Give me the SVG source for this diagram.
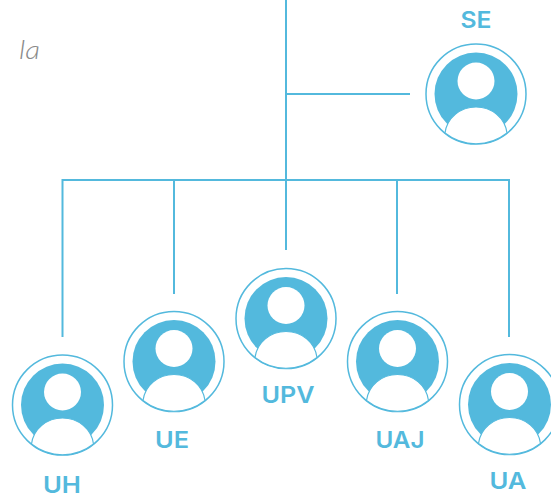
<svg xmlns="http://www.w3.org/2000/svg" width="551" height="495" viewBox="0 0 551 495">
<style>
.c{fill:none;stroke:#53b9dd;stroke-width:2}
.r{fill:#fff;stroke:#53b9dd;stroke-width:1.5}
.d{fill:#53b9dd}
.w{fill:#fff}
.b{fill:#fff;stroke:#53b9dd;stroke-width:1.2}
.t{font-family:Inter,"Liberation Sans",sans-serif;font-weight:600;font-size:23px;fill:#53b9dd;text-anchor:middle}
</style>
<defs>
<g id="p">
<circle class="r" cx="0" cy="0" r="50"/>
<circle class="d" cx="0" cy="0" r="41.500"/>
<circle class="w" cx="0" cy="-13" r="18.500"/>
<path class="b" d="M-31,39C-29,24 -16,13 0,13C16,13 29,24 31,39A50,50 0 0 1 -31,39Z"/>
</g>
</defs>
<g id="connectors">
<path class="c" d="M286,0V250M286,94H410M62.500,180H509M62.500,179V337M174,179V294M397,179V294M509,179V337"/>
</g>
<g id="node-la"><text x="19" y="59" textLength="21" lengthAdjust="spacingAndGlyphs" style="font-family:Lato,'Open Sans',sans-serif;font-weight:300;font-style:italic;font-size:26px;fill:#8a8a8a">la</text></g>
<g id="node-SE"><use href="#p" x="476" y="94"/><text class="t" x="476" y="28" textLength="31" lengthAdjust="spacingAndGlyphs">SE</text></g>
<g id="node-UH"><use href="#p" x="62.500" y="405"/><text class="t" x="62" y="492.500" textLength="38" lengthAdjust="spacingAndGlyphs">UH</text></g>
<g id="node-UE"><use href="#p" x="174" y="361.500"/><text class="t" x="172" y="448" textLength="34" lengthAdjust="spacingAndGlyphs">UE</text></g>
<g id="node-UPV"><use href="#p" x="286" y="318.500"/><text class="t" x="288" y="403" textLength="53" lengthAdjust="spacingAndGlyphs">UPV</text></g>
<g id="node-UAJ"><use href="#p" x="397.500" y="361.500"/><text class="t" x="400" y="448" textLength="49" lengthAdjust="spacingAndGlyphs">UAJ</text></g>
<g id="node-UA"><use href="#p" x="509.500" y="404.500"/><text class="t" x="508" y="489" textLength="37" lengthAdjust="spacingAndGlyphs">UA</text></g>
</svg>
